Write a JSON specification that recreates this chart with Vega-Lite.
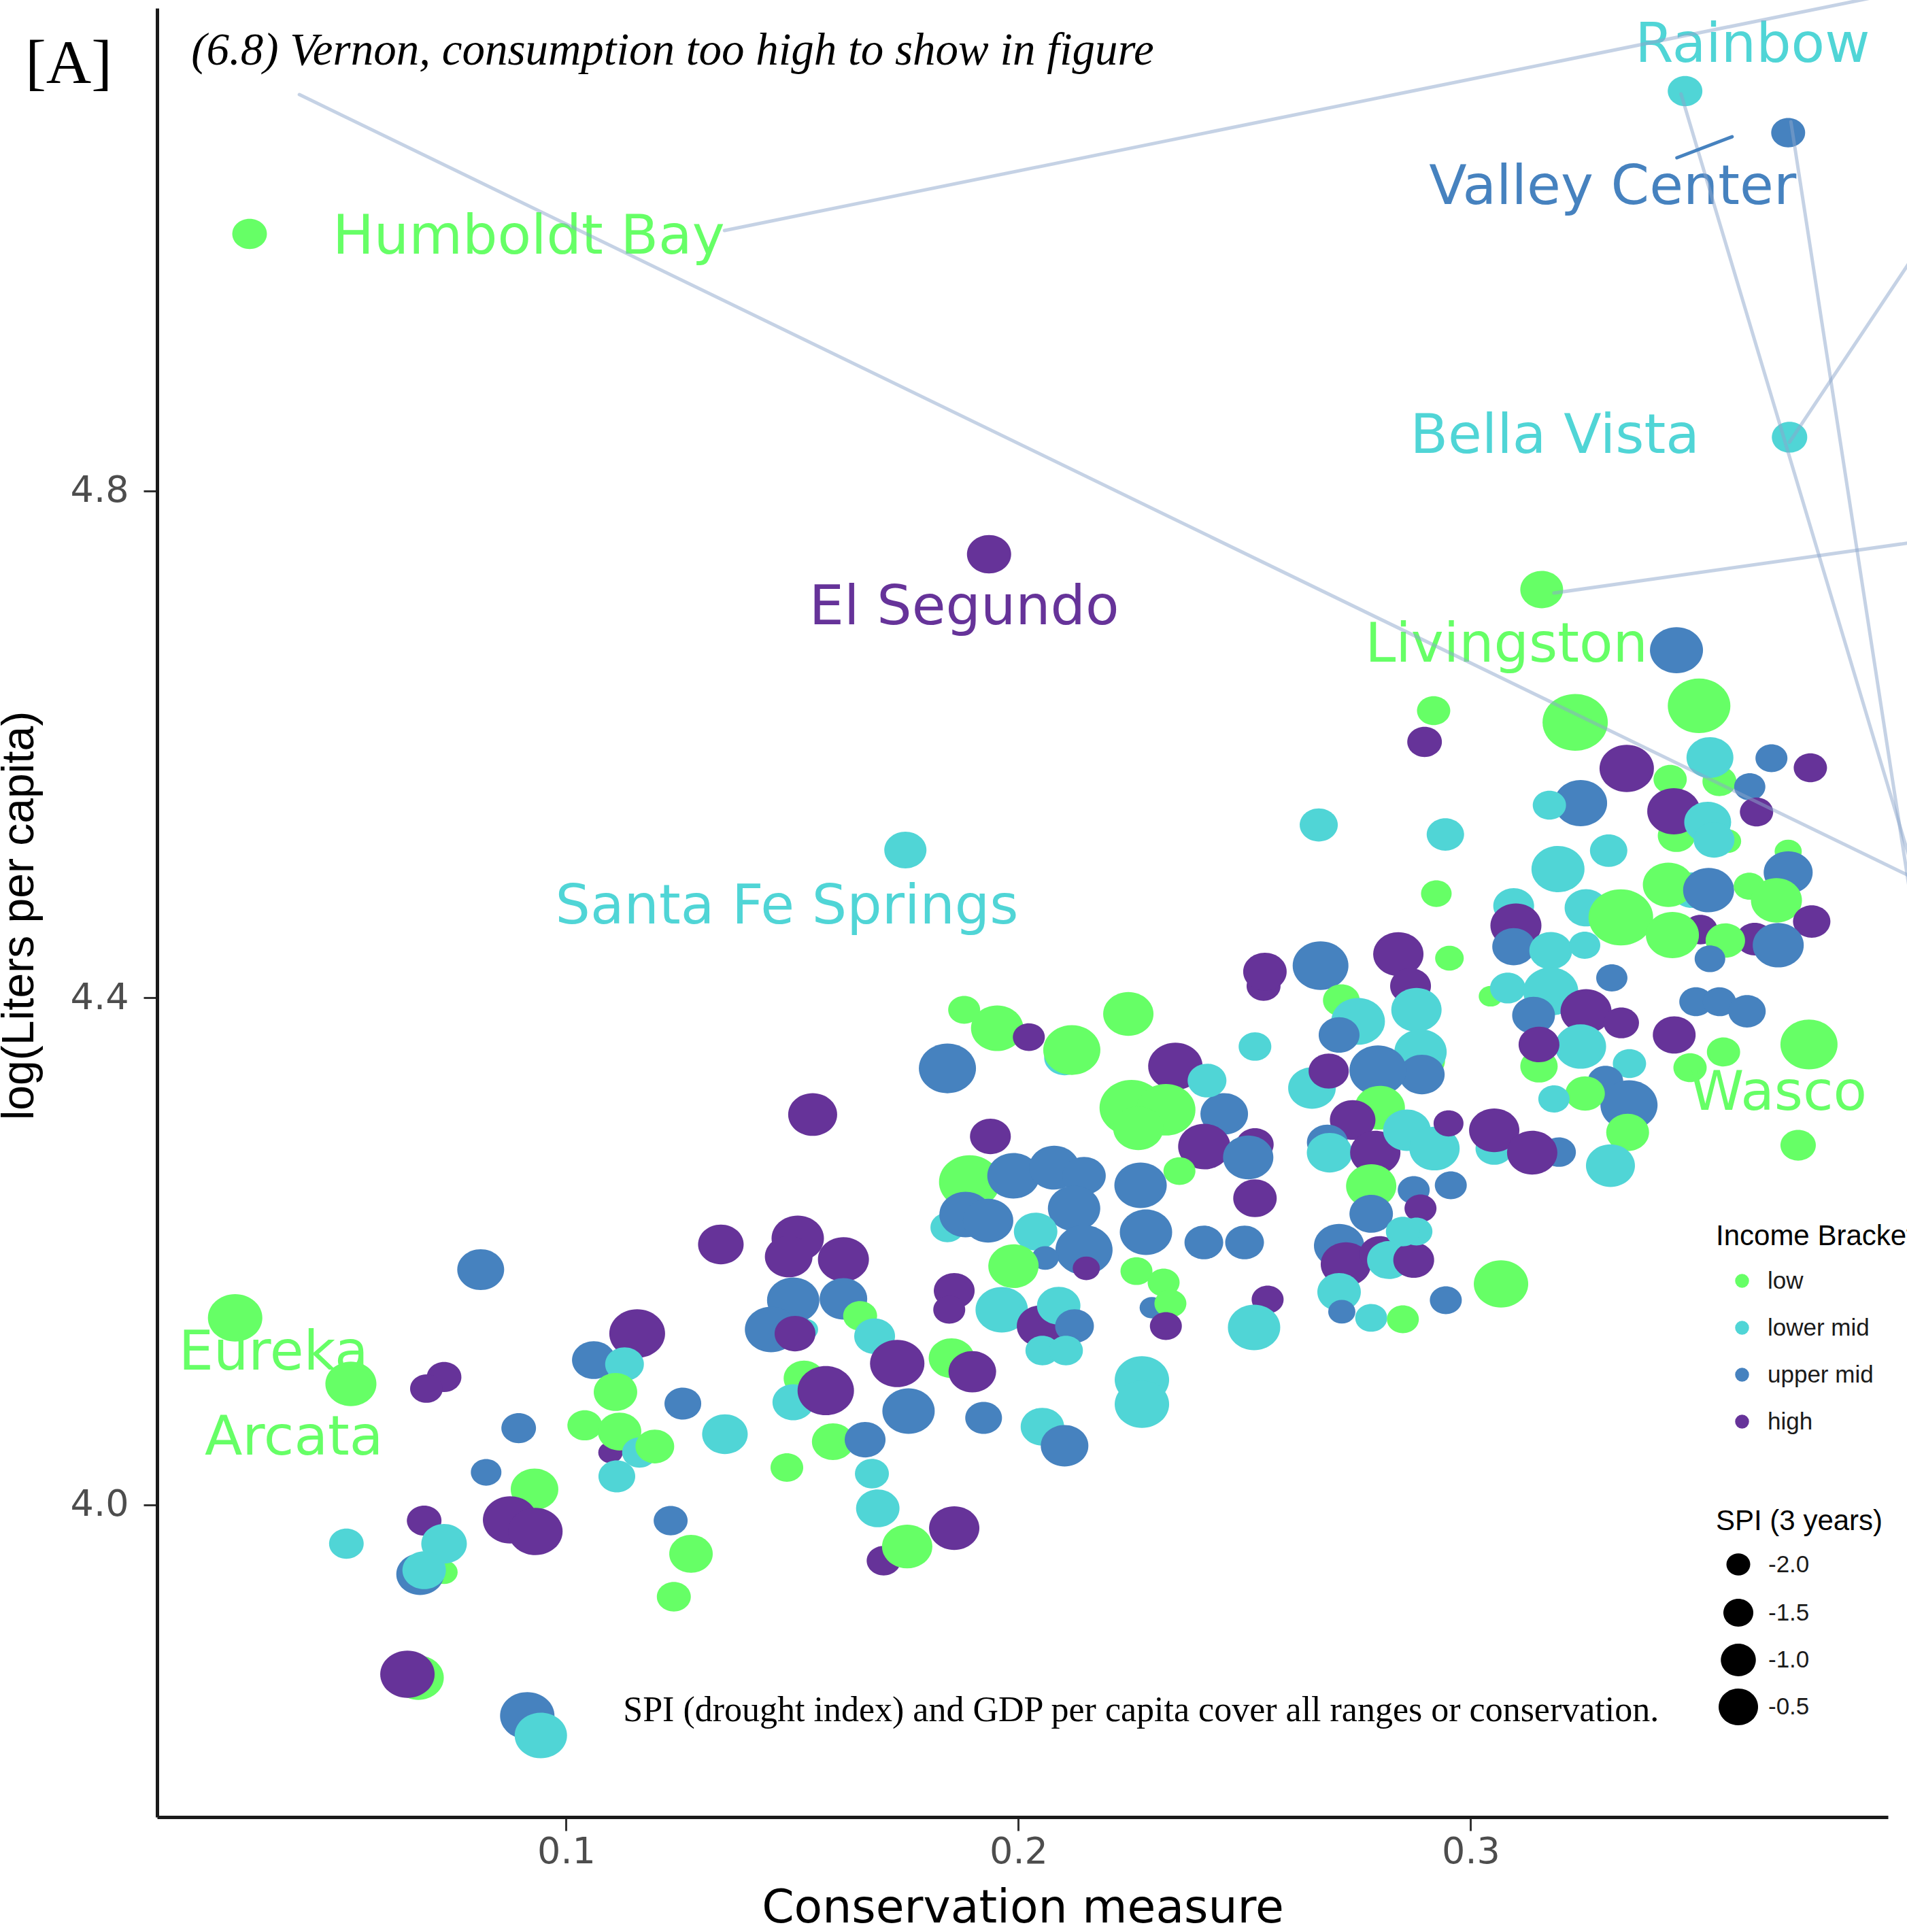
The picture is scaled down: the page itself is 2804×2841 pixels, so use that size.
{
"$schema": "https://vega.github.io/schema/vega-lite/v6.json",
"width": 2545,
"height": 2660,
"autosize": {"type": "none"},
"padding": {"left": 231, "top": 12, "right": 28, "bottom": 169},
"background": "white",
"config": {
  "view": {"stroke": null},
  "legend": {"padding": 0, "titleFont": "Liberation Sans", "titleFontSize": 42, "titleFontWeight": "normal", "titleColor": "#000000", "labelFont": "Liberation Sans", "labelFontSize": 35, "labelColor": "#1a1a1a", "titleLimit": 1000, "labelLimit": 1000}
},
"datasets": {
  "points": [
    {"cons":0.0673,"lpc":3.8637,"income":"low","spi":1.09},
    {"cons":0.0730,"lpc":3.9469,"income":"low","spi":-1.74},
    {"cons":0.2102,"lpc":4.3530,"income":"lower mid","spi":-0.33},
    {"cons":0.2898,"lpc":4.3503,"income":"low","spi":-0.33},
    {"cons":0.3550,"lpc":4.5709,"income":"low","spi":-1.11},
    {"cons":0.3455,"lpc":4.5280,"income":"low","spi":-0.74},
    {"cons":0.3568,"lpc":4.5237,"income":"low","spi":-1.74},
    {"cons":0.3489,"lpc":4.4851,"income":"lower mid","spi":-0.33},
    {"cons":0.3508,"lpc":4.4539,"income":"high","spi":-1.11},
    {"cons":0.3628,"lpc":4.4464,"income":"high","spi":-0.74},
    {"cons":0.3195,"lpc":4.2784,"income":"upper mid","spi":-1.11},
    {"cons":0.1843,"lpc":4.2189,"income":"lower mid","spi":-1.11},
    {"cons":0.2523,"lpc":4.2844,"income":"high","spi":-0.74},
    {"cons":0.1702,"lpc":3.9560,"income":"high","spi":-1.11},
    {"cons":0.1098,"lpc":4.0413,"income":"high","spi":-1.95},
    {"cons":0.1526,"lpc":4.0998,"income":"low","spi":-0.33},
    {"cons":0.1530,"lpc":4.1384,"income":"lower mid","spi":-1.95},
    {"cons":0.3151,"lpc":4.3461,"income":"low","spi":-0.74},
    {"cons":0.2542,"lpc":4.4094,"income":"high","spi":-1.11},
    {"cons":0.0268,"lpc":4.1476,"income":"low","spi":1.63},
    {"cons":0.0524,"lpc":4.0955,"income":"low","spi":1.09},
    {"cons":0.0811,"lpc":4.1857,"income":"upper mid","spi":0.48},
    {"cons":0.0730,"lpc":4.1009,"income":"high","spi":-1.04},
    {"cons":0.0691,"lpc":4.0918,"income":"high","spi":-1.24},
    {"cons":0.1342,"lpc":4.2055,"income":"high","spi":0.29},
    {"cons":0.1512,"lpc":4.2103,"income":"high","spi":1.30},
    {"cons":0.1492,"lpc":4.1959,"income":"high","spi":0.58},
    {"cons":0.1613,"lpc":4.1937,"income":"high","spi":1.09},
    {"cons":0.1502,"lpc":4.1615,"income":"upper mid","spi":1.30},
    {"cons":0.1453,"lpc":4.1384,"income":"upper mid","spi":1.30},
    {"cons":0.1506,"lpc":4.1352,"income":"high","spi":-0.33},
    {"cons":0.1613,"lpc":4.1626,"income":"upper mid","spi":0.58},
    {"cons":0.1157,"lpc":4.1352,"income":"high","spi":1.86},
    {"cons":0.1061,"lpc":4.1143,"income":"upper mid","spi":0.01},
    {"cons":0.1129,"lpc":4.1111,"income":"lower mid","spi":-0.58},
    {"cons":0.1109,"lpc":4.0891,"income":"low","spi":0.01},
    {"cons":0.1041,"lpc":4.0628,"income":"low","spi":-1.04},
    {"cons":0.1118,"lpc":4.0579,"income":"low","spi":0.01},
    {"cons":0.1162,"lpc":4.0413,"income":"lower mid","spi":-1.04},
    {"cons":0.1196,"lpc":4.0461,"income":"low","spi":-0.58},
    {"cons":0.1112,"lpc":4.0225,"income":"lower mid","spi":-0.81},
    {"cons":0.1258,"lpc":4.0800,"income":"upper mid","spi":-0.81},
    {"cons":0.1351,"lpc":4.0558,"income":"lower mid","spi":0.29},
    {"cons":0.1488,"lpc":4.0295,"income":"low","spi":-1.24},
    {"cons":0.1502,"lpc":4.0810,"income":"lower mid","spi":-0.25},
    {"cons":0.1574,"lpc":4.0902,"income":"high","spi":1.97},
    {"cons":0.1590,"lpc":4.0499,"income":"low","spi":-0.16},
    {"cons":0.0895,"lpc":4.0606,"income":"upper mid","spi":-1.04},
    {"cons":0.0823,"lpc":4.0257,"income":"upper mid","spi":-1.44},
    {"cons":0.0930,"lpc":4.0123,"income":"low","spi":0.58},
    {"cons":0.0876,"lpc":3.9882,"income":"high","spi":1.63},
    {"cons":0.0932,"lpc":3.9791,"income":"high","spi":1.63},
    {"cons":0.0686,"lpc":3.9876,"income":"high","spi":-1.04},
    {"cons":0.0514,"lpc":3.9694,"income":"lower mid","spi":-1.04},
    {"cons":0.0730,"lpc":3.9694,"income":"lower mid","spi":0.29},
    {"cons":0.0677,"lpc":3.9453,"income":"upper mid","spi":0.58},
    {"cons":0.0686,"lpc":3.9485,"income":"lower mid","spi":0.01},
    {"cons":0.1231,"lpc":3.9876,"income":"upper mid","spi":-1.11},
    {"cons":0.1276,"lpc":3.9614,"income":"low","spi":0.01},
    {"cons":0.1238,"lpc":3.9276,"income":"low","spi":-1.11},
    {"cons":0.0649,"lpc":3.8664,"income":"high","spi":1.63},
    {"cons":0.0914,"lpc":3.8337,"income":"upper mid","spi":1.63},
    {"cons":0.0944,"lpc":3.8181,"income":"lower mid","spi":1.30},
    {"cons":0.1843,"lpc":4.3444,"income":"upper mid","spi":2.09},
    {"cons":0.1880,"lpc":4.3906,"income":"low","spi":-1.31},
    {"cons":0.1953,"lpc":4.3761,"income":"low","spi":1.30},
    {"cons":0.2023,"lpc":4.3691,"income":"high","spi":-1.31},
    {"cons":0.2118,"lpc":4.3589,"income":"low","spi":2.09},
    {"cons":0.2243,"lpc":4.3874,"income":"low","spi":0.98},
    {"cons":0.2545,"lpc":4.4207,"income":"high","spi":0.01},
    {"cons":0.2668,"lpc":4.4255,"income":"upper mid","spi":1.86},
    {"cons":0.2840,"lpc":4.4346,"income":"high","spi":0.98},
    {"cons":0.2953,"lpc":4.4314,"income":"low","spi":-1.62},
    {"cons":0.2867,"lpc":4.4094,"income":"high","spi":-0.33},
    {"cons":0.2714,"lpc":4.3981,"income":"low","spi":-0.81},
    {"cons":0.2751,"lpc":4.3815,"income":"lower mid","spi":1.52},
    {"cons":0.2709,"lpc":4.3708,"income":"upper mid","spi":-0.33},
    {"cons":0.2880,"lpc":4.3906,"income":"lower mid","spi":0.98},
    {"cons":0.2889,"lpc":4.3574,"income":"lower mid","spi":1.30},
    {"cons":0.2892,"lpc":4.3396,"income":"upper mid","spi":0.29},
    {"cons":0.2523,"lpc":4.3617,"income":"lower mid","spi":-1.24},
    {"cons":0.2649,"lpc":4.3289,"income":"lower mid","spi":0.58},
    {"cons":0.2686,"lpc":4.3423,"income":"high","spi":-0.41},
    {"cons":0.2795,"lpc":4.3429,"income":"upper mid","spi":2.09},
    {"cons":0.2799,"lpc":4.3134,"income":"low","spi":0.98},
    {"cons":0.2739,"lpc":4.3037,"income":"high","spi":0.29},
    {"cons":0.2683,"lpc":4.2860,"income":"upper mid","spi":-0.33},
    {"cons":0.2688,"lpc":4.2779,"income":"lower mid","spi":0.29},
    {"cons":0.2789,"lpc":4.2779,"income":"high","spi":0.98},
    {"cons":0.2859,"lpc":4.2956,"income":"lower mid","spi":0.58},
    {"cons":0.2920,"lpc":4.2812,"income":"lower mid","spi":0.98},
    {"cons":0.2951,"lpc":4.3010,"income":"high","spi":-1.50},
    {"cons":0.3052,"lpc":4.2812,"income":"lower mid","spi":-0.74},
    {"cons":0.3052,"lpc":4.2956,"income":"high","spi":0.98},
    {"cons":0.3136,"lpc":4.2779,"income":"high","spi":0.98},
    {"cons":0.2780,"lpc":4.2516,"income":"low","spi":0.98},
    {"cons":0.2874,"lpc":4.2484,"income":"upper mid","spi":-1.31},
    {"cons":0.2956,"lpc":4.2522,"income":"upper mid","spi":-1.31},
    {"cons":0.2889,"lpc":4.2340,"income":"high","spi":-1.31},
    {"cons":0.2780,"lpc":4.2297,"income":"upper mid","spi":0.01},
    {"cons":0.2709,"lpc":4.2045,"income":"upper mid","spi":0.98},
    {"cons":0.2724,"lpc":4.1900,"income":"high","spi":0.98},
    {"cons":0.2799,"lpc":4.1980,"income":"high","spi":-0.33},
    {"cons":0.2819,"lpc":4.1932,"income":"lower mid","spi":0.01},
    {"cons":0.2874,"lpc":4.1932,"income":"high","spi":-0.33},
    {"cons":0.2880,"lpc":4.2157,"income":"lower mid","spi":-1.31},
    {"cons":0.2850,"lpc":4.2157,"income":"lower mid","spi":-1.11},
    {"cons":0.2709,"lpc":4.1680,"income":"lower mid","spi":0.01},
    {"cons":0.2715,"lpc":4.1524,"income":"upper mid","spi":-1.74},
    {"cons":0.2780,"lpc":4.1476,"income":"lower mid","spi":-1.31},
    {"cons":0.2850,"lpc":4.1465,"income":"low","spi":-1.31},
    {"cons":0.2945,"lpc":4.1615,"income":"upper mid","spi":-1.31},
    {"cons":0.3067,"lpc":4.1744,"income":"low","spi":1.63},
    {"cons":0.2551,"lpc":4.1620,"income":"high","spi":-1.31},
    {"cons":0.2521,"lpc":4.1401,"income":"lower mid","spi":1.30},
    {"cons":0.2455,"lpc":4.3085,"income":"upper mid","spi":0.58},
    {"cons":0.2411,"lpc":4.2827,"income":"high","spi":1.30},
    {"cons":0.2347,"lpc":4.3461,"income":"high","spi":1.63},
    {"cons":0.2417,"lpc":4.3348,"income":"lower mid","spi":-0.58},
    {"cons":0.2250,"lpc":4.3134,"income":"low","spi":3.34},
    {"cons":0.2326,"lpc":4.3118,"income":"low","spi":2.45},
    {"cons":0.2265,"lpc":4.2972,"income":"low","spi":0.98},
    {"cons":0.2508,"lpc":4.2742,"income":"upper mid","spi":0.98},
    {"cons":0.2523,"lpc":4.2420,"income":"high","spi":0.01},
    {"cons":0.2356,"lpc":4.2634,"income":"low","spi":-1.31},
    {"cons":0.2270,"lpc":4.2522,"income":"upper mid","spi":1.30},
    {"cons":0.2282,"lpc":4.2151,"income":"upper mid","spi":1.30},
    {"cons":0.2410,"lpc":4.2071,"income":"upper mid","spi":-0.58},
    {"cons":0.2500,"lpc":4.2071,"income":"upper mid","spi":-0.58},
    {"cons":0.2261,"lpc":4.1845,"income":"low","spi":-1.31},
    {"cons":0.2321,"lpc":4.1755,"income":"low","spi":-1.31},
    {"cons":0.2295,"lpc":4.1556,"income":"upper mid","spi":-1.95},
    {"cons":0.2336,"lpc":4.1589,"income":"low","spi":-1.31},
    {"cons":0.2326,"lpc":4.1411,"income":"high","spi":-1.31},
    {"cons":0.1938,"lpc":4.2908,"income":"high","spi":-0.33},
    {"cons":0.1892,"lpc":4.2549,"income":"low","spi":2.82},
    {"cons":0.1989,"lpc":4.2597,"income":"upper mid","spi":1.30},
    {"cons":0.2079,"lpc":4.2661,"income":"upper mid","spi":0.98},
    {"cons":0.2145,"lpc":4.2597,"income":"upper mid","spi":0.01},
    {"cons":0.2123,"lpc":4.2340,"income":"upper mid","spi":1.30},
    {"cons":0.1883,"lpc":4.2291,"income":"upper mid","spi":1.30},
    {"cons":0.1933,"lpc":4.2243,"income":"upper mid","spi":0.98},
    {"cons":0.2038,"lpc":4.2157,"income":"lower mid","spi":0.01},
    {"cons":0.2145,"lpc":4.2012,"income":"upper mid","spi":2.09},
    {"cons":0.2059,"lpc":4.1948,"income":"upper mid","spi":-1.74},
    {"cons":0.1989,"lpc":4.1884,"income":"low","spi":0.98},
    {"cons":0.2150,"lpc":4.1867,"income":"high","spi":-1.74},
    {"cons":0.1858,"lpc":4.1690,"income":"high","spi":-0.33},
    {"cons":0.1847,"lpc":4.1540,"income":"high","spi":-1.31},
    {"cons":0.1963,"lpc":4.1540,"income":"lower mid","spi":1.30},
    {"cons":0.2049,"lpc":4.1411,"income":"high","spi":0.58},
    {"cons":0.2089,"lpc":4.1572,"income":"lower mid","spi":0.01},
    {"cons":0.2124,"lpc":4.1411,"income":"upper mid","spi":-0.58},
    {"cons":0.2053,"lpc":4.1218,"income":"lower mid","spi":-1.11},
    {"cons":0.2105,"lpc":4.1218,"income":"lower mid","spi":-1.11},
    {"cons":0.1650,"lpc":4.1492,"income":"low","spi":-1.11},
    {"cons":0.1682,"lpc":4.1331,"income":"lower mid","spi":-0.33},
    {"cons":0.1732,"lpc":4.1116,"income":"high","spi":1.63},
    {"cons":0.1852,"lpc":4.1158,"income":"low","spi":0.29},
    {"cons":0.1898,"lpc":4.1051,"income":"high","spi":0.58},
    {"cons":0.1757,"lpc":4.0740,"income":"upper mid","spi":1.30},
    {"cons":0.1923,"lpc":4.0687,"income":"upper mid","spi":-0.81},
    {"cons":0.1661,"lpc":4.0515,"income":"upper mid","spi":-0.33},
    {"cons":0.1676,"lpc":4.0247,"income":"lower mid","spi":-1.11},
    {"cons":0.1689,"lpc":3.9973,"income":"lower mid","spi":0.01},
    {"cons":0.1858,"lpc":3.9817,"income":"high","spi":0.98},
    {"cons":0.1754,"lpc":3.9672,"income":"low","spi":0.98},
    {"cons":0.2053,"lpc":4.0617,"income":"lower mid","spi":0.01},
    {"cons":0.2102,"lpc":4.0467,"income":"upper mid","spi":0.58},
    {"cons":0.2273,"lpc":4.0987,"income":"lower mid","spi":1.63},
    {"cons":0.2273,"lpc":4.0794,"income":"lower mid","spi":1.63},
    {"cons":0.3157,"lpc":4.7222,"income":"low","spi":-0.08},
    {"cons":0.3455,"lpc":4.6744,"income":"upper mid","spi":1.41},
    {"cons":0.2918,"lpc":4.6267,"income":"low","spi":-1.18},
    {"cons":0.2898,"lpc":4.6020,"income":"high","spi":-1.04},
    {"cons":0.3231,"lpc":4.6175,"income":"low","spi":3.60},
    {"cons":0.3505,"lpc":4.6305,"income":"low","spi":3.08},
    {"cons":0.3345,"lpc":4.5811,"income":"high","spi":1.63},
    {"cons":0.3529,"lpc":4.5897,"income":"lower mid","spi":0.48},
    {"cons":0.3665,"lpc":4.5891,"income":"upper mid","spi":-1.31},
    {"cons":0.3751,"lpc":4.5816,"income":"high","spi":-1.18},
    {"cons":0.3441,"lpc":4.5725,"income":"low","spi":-1.18},
    {"cons":0.3617,"lpc":4.5666,"income":"upper mid","spi":-1.38},
    {"cons":0.3632,"lpc":4.5467,"income":"high","spi":-1.18},
    {"cons":0.3243,"lpc":4.5537,"income":"upper mid","spi":1.41},
    {"cons":0.3174,"lpc":4.5521,"income":"lower mid","spi":-1.18},
    {"cons":0.3449,"lpc":4.5473,"income":"high","spi":1.41},
    {"cons":0.3524,"lpc":4.5387,"income":"lower mid","spi":0.48},
    {"cons":0.3538,"lpc":4.5247,"income":"lower mid","spi":-0.33},
    {"cons":0.2664,"lpc":4.5365,"income":"lower mid","spi":-0.66},
    {"cons":0.2944,"lpc":4.5290,"income":"lower mid","spi":-0.74},
    {"cons":0.3193,"lpc":4.5017,"income":"lower mid","spi":1.41},
    {"cons":0.3305,"lpc":4.5162,"income":"lower mid","spi":-0.74},
    {"cons":0.3702,"lpc":4.5156,"income":"low","spi":-1.74},
    {"cons":0.3702,"lpc":4.4990,"income":"upper mid","spi":0.78},
    {"cons":0.3437,"lpc":4.4893,"income":"low","spi":1.09},
    {"cons":0.3526,"lpc":4.4851,"income":"upper mid","spi":1.09},
    {"cons":0.3616,"lpc":4.4882,"income":"low","spi":-1.38},
    {"cons":0.3676,"lpc":4.4770,"income":"low","spi":1.09},
    {"cons":0.3754,"lpc":4.4603,"income":"high","spi":-0.74},
    {"cons":0.2924,"lpc":4.4823,"income":"low","spi":-1.44},
    {"cons":0.3095,"lpc":4.4727,"income":"lower mid","spi":-0.33},
    {"cons":0.3100,"lpc":4.4571,"income":"high","spi":1.09},
    {"cons":0.3095,"lpc":4.4405,"income":"upper mid","spi":-0.08},
    {"cons":0.3255,"lpc":4.4711,"income":"lower mid","spi":-0.08},
    {"cons":0.3332,"lpc":4.4636,"income":"low","spi":3.47},
    {"cons":0.3446,"lpc":4.4496,"income":"low","spi":1.41},
    {"cons":0.3563,"lpc":4.4453,"income":"low","spi":-0.50},
    {"cons":0.3680,"lpc":4.4416,"income":"upper mid","spi":1.09},
    {"cons":0.3529,"lpc":4.4309,"income":"upper mid","spi":-1.44},
    {"cons":0.3177,"lpc":4.4373,"income":"lower mid","spi":-0.08},
    {"cons":0.3252,"lpc":4.4416,"income":"lower mid","spi":-1.38},
    {"cons":0.3044,"lpc":4.4014,"income":"low","spi":-2.00},
    {"cons":0.3082,"lpc":4.4078,"income":"lower mid","spi":-0.96},
    {"cons":0.3177,"lpc":4.4051,"income":"lower mid","spi":1.74},
    {"cons":0.3139,"lpc":4.3863,"income":"upper mid","spi":-0.08},
    {"cons":0.3255,"lpc":4.3895,"income":"high","spi":1.09},
    {"cons":0.3333,"lpc":4.3803,"income":"high","spi":-0.96},
    {"cons":0.3243,"lpc":4.3617,"income":"lower mid","spi":1.09},
    {"cons":0.3151,"lpc":4.3633,"income":"high","spi":-0.33},
    {"cons":0.3312,"lpc":4.4158,"income":"upper mid","spi":-1.38},
    {"cons":0.3498,"lpc":4.3970,"income":"upper mid","spi":-1.18},
    {"cons":0.3550,"lpc":4.3970,"income":"upper mid","spi":-1.18},
    {"cons":0.3611,"lpc":4.3895,"income":"upper mid","spi":-0.74},
    {"cons":0.3450,"lpc":4.3708,"income":"high","spi":-0.08},
    {"cons":0.3748,"lpc":4.3633,"income":"low","spi":2.09},
    {"cons":0.3559,"lpc":4.3574,"income":"low","spi":-1.18},
    {"cons":0.3485,"lpc":4.3450,"income":"low","spi":-1.18},
    {"cons":0.3351,"lpc":4.3482,"income":"lower mid","spi":-1.18},
    {"cons":0.3298,"lpc":4.3343,"income":"upper mid","spi":-0.96},
    {"cons":0.3350,"lpc":4.3155,"income":"upper mid","spi":2.09},
    {"cons":0.3253,"lpc":4.3246,"income":"low","spi":-0.50},
    {"cons":0.3184,"lpc":4.3203,"income":"lower mid","spi":-1.38},
    {"cons":0.3347,"lpc":4.2939,"income":"low","spi":-0.08},
    {"cons":0.3309,"lpc":4.2677,"income":"lower mid","spi":0.78},
    {"cons":0.3724,"lpc":4.2838,"income":"low","spi":-0.96},
    {"cons":0.0300,"lpc":5.0028,"income":"low","spi":-1.04},
    {"cons":0.1935,"lpc":4.7501,"income":"high","spi":0.10},
    {"cons":0.1750,"lpc":4.5167,"income":"lower mid","spi":-0.16},
    {"cons":0.3474,"lpc":5.1155,"income":"lower mid","spi":-1.04},
    {"cons":0.3702,"lpc":5.0827,"income":"upper mid","spi":-1.11},
    {"cons":0.3705,"lpc":4.8424,"income":"lower mid","spi":-0.96},
    {"cons":0.1545,"lpc":4.3080,"income":"high","spi":0.78}
  ],
  "labels": [
    {"cons":0.0917,"lpc":4.9873,"name":"Humboldt Bay","income":"low"},
    {"cons":0.1880,"lpc":4.6948,"name":"El Segundo","income":"high"},
    {"cons":0.1488,"lpc":4.4587,"name":"Santa Fe Springs","income":"lower mid"},
    {"cons":0.3079,"lpc":4.6653,"name":"Livingston","income":"low"},
    {"cons":0.3680,"lpc":4.3118,"name":"Wasco","income":"low"},
    {"cons":0.0353,"lpc":4.1067,"name":"Eureka","income":"low"},
    {"cons":0.0398,"lpc":4.0397,"name":"Arcata","income":"low"},
    {"cons":0.3623,"lpc":5.1386,"name":"Rainbow","income":"lower mid"},
    {"cons":0.3314,"lpc":5.0264,"name":"Valley Center","income":"upper mid"},
    {"cons":0.3186,"lpc":4.8301,"name":"Bella Vista","income":"lower mid"}
  ],
  "segments": [
    {"cons":0.0410,"lpc":5.1128,"cons2":0.4004,"lpc2":4.4904},
    {"cons":0.1350,"lpc":5.0055,"cons2":0.4004,"lpc2":5.1976},
    {"cons":0.3465,"lpc":5.1133,"cons2":0.4004,"lpc2":4.4700},
    {"cons":0.3708,"lpc":5.0913,"cons2":0.4004,"lpc2":4.4072},
    {"cons":0.3705,"lpc":4.8386,"cons2":0.4004,"lpc2":4.9985},
    {"cons":0.3184,"lpc":4.7195,"cons2":0.4004,"lpc2":4.7608}
  ]
},
"encoding": {
  "x": {"field": "cons", "type": "quantitative",
    "scale": {"domain": [0.009549, 0.39226], "nice": false, "zero": false},
    "axis": {"title": "Conservation measure", "values": [0.1, 0.2, 0.3], "format": ".1f", "grid": false,
      "domainColor": "#1a1a1a", "domainWidth": 5, "tickColor": "#333333", "tickWidth": 3, "tickSize": 20,
      "labelFont": "DejaVu Sans", "labelFontSize": 54, "labelColor": "#4d4d4d", "labelPadding": 4, "labelFlush": false,
      "titleFont": "DejaVu Sans", "titleFontSize": 68, "titleFontWeight": "normal", "titleColor": "#000000",
      "titleBaseline": "alphabetic", "titleY": 154}},
  "y": {"field": "lpc", "type": "quantitative",
    "scale": {"domain": [3.75372, 5.18095], "nice": false, "zero": false},
    "axis": {"title": "log(Liters per capita)", "values": [4.0, 4.4, 4.8], "format": ".1f", "grid": false,
      "domainColor": "#1a1a1a", "domainWidth": 5, "tickColor": "#333333", "tickWidth": 3, "tickSize": 20,
      "labelFont": "DejaVu Sans", "labelFontSize": 54, "labelColor": "#4d4d4d", "labelPadding": 22,
      "titleFont": "Liberation Sans", "titleFontSize": 66, "titleFontWeight": "normal", "titleColor": "#000000",
      "titleAngle": 270, "titleBaseline": "alphabetic", "titleAlign": "center", "titleX": -183, "titleY": 1334}}
},
"layer": [
  {
    "data": {"name": "points"},
    "mark": {"type": "point", "filled": true, "opacity": 1, "strokeWidth": 0,
      "shape": "M-1,0A1,0.87,0,1,1,1,0A1,0.87,0,1,1,-1,0Z"},
    "encoding": {
      "color": {"field": "income", "type": "nominal",
        "scale": {"domain": ["low", "lower mid", "upper mid", "high"], "range": ["#66ff66", "#50d5d6", "#4682bf", "#663399"]},
        "legend": {"title": "Income Bracket", "orient": "none", "legendX": 2292, "legendY": 1786, "direction": "vertical",
          "symbolType": "circle", "symbolSize": 420, "symbolOffset": 21, "labelOffset": 20, "rowPadding": 33, "titlePadding": 26, "symbolOpacity": 1}},
      "size": {"field": "spi", "type": "quantitative",
        "scale": {"domain": [-2, -0.5], "range": [1225, 3364], "zero": false, "nice": false},
        "legend": {"title": "SPI (3 years)", "orient": "none", "legendX": 2292, "legendY": 2205, "direction": "vertical",
          "values": [-2, -1.5, -1, -0.5], "labelExpr": "datum.value < 0 ? '-' + format(-datum.value, '.1f') : format(datum.value, '.1f')",
          "symbolType": "M-1,0A1,0.93,0,1,1,1,0A1,0.93,0,1,1,-1,0Z", "symbolFillColor": "#000000", "symbolStrokeColor": "#000000", "symbolStrokeWidth": 0, "symbolOpacity": 1,
          "symbolOffset": 4, "labelOffset": 15, "rowPadding": 10, "titlePadding": 24, "gridAlign": "all"}}
    }
  },
  {
    "data": {"name": "labels"},
    "mark": {"type": "text", "font": "DejaVu Sans", "fontSize": 81, "align": "center", "baseline": "alphabetic"},
    "encoding": {
      "text": {"field": "name"},
      "color": {"field": "income", "type": "nominal", "legend": null}
    }
  },
  {
    "data": {"name": "segments"},
    "mark": {"type": "rule", "stroke": "#8ba6cb", "strokeWidth": 5, "opacity": 0.5, "strokeCap": "round"},
    "encoding": {
      "x2": {"field": "cons2"},
      "y2": {"field": "lpc2"}
    }
  },
  {
    "data": {"values": [{"cons": 0.3456, "lpc": 5.0629, "cons2": 0.3578, "lpc2": 5.0795}]},
    "mark": {"type": "rule", "stroke": "#4682bf", "strokeWidth": 5, "strokeCap": "round"},
    "encoding": {
      "x2": {"field": "cons2"},
      "y2": {"field": "lpc2"}
    }
  },
  {
    "data": {"values": [{"cons": -0.0100, "lpc": 5.1219, "note": "[A]"}]},
    "mark": {"type": "text", "font": "Liberation Serif", "fontSize": 92, "align": "center", "baseline": "alphabetic", "color": "#000000"},
    "encoding": {"text": {"field": "note"}}
  },
  {
    "data": {"values": [{"cons": 0.0171, "lpc": 5.1365, "note": "(6.8) Vernon, consumption too high to show in figure"}]},
    "mark": {"type": "text", "font": "Liberation Serif", "fontStyle": "italic", "fontSize": 67, "align": "left", "baseline": "alphabetic", "color": "#000000"},
    "encoding": {"text": {"field": "note"}}
  },
  {
    "data": {"values": [{"cons": 0.1126, "lpc": 3.8294, "note": "SPI (drought index) and GDP per capita cover all ranges or conservation."}]},
    "mark": {"type": "text", "font": "Liberation Serif", "fontSize": 52, "align": "left", "baseline": "alphabetic", "color": "#000000"},
    "encoding": {"text": {"field": "note"}}
  }
]
}
